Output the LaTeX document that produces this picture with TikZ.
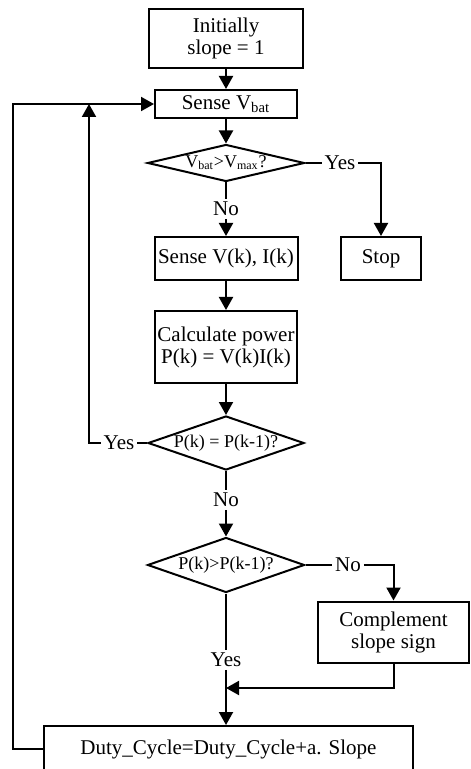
\documentclass[tikz,border=0pt]{standalone}
\usepackage{fontspec}
\setmainfont{Liberation Serif}
\usepackage{tikz}
\usetikzlibrary{arrows.meta,shapes}

\begin{document}
\begin{tikzpicture}[x=0.5pt,y=-0.5pt,line width=1pt,
font=\fontsize{10.5}{11}\selectfont,
box node/.style = {rectangle,draw,align=center,inner sep=0pt},
decision node/.style = {diamond,draw,inner sep=0pt,font=\fontsize{9}{10}\selectfont},
label node/.style = {inner sep=1pt},
flow/.style = {-{Triangle[width=7pt,length=6.5pt]}}]
\useasboundingbox (0,0) rectangle (470,769);

\node[box node,minimum width=77pt,minimum height=29.5pt] at (226,38.5) (init) {Initially\\slope = 1};
\node[box node,minimum width=71pt,minimum height=14pt] at (226,104) (sense) {Sense V\textsubscript{bat}};
\node[decision node,shape aspect=4.2,minimum width=78.5pt,minimum height=18.5pt] at (226,163) (d1) {V\textsubscript{bat}>V\textsubscript{max}?};
\node[label node] at (340,163) (yes1) {Yes};
\node[box node,minimum width=40pt,minimum height=21.5pt] at (381,258.5) (stop) {Stop};
\node[label node] at (226,209) (no1) {No};
\node[box node,minimum width=71.5pt,minimum height=21.5pt] at (226,258.5) (vi) {Sense V(k), I(k)};
\node[box node,minimum width=71pt,minimum height=36pt] at (226,347) (calc) {Calculate power\\P(k) = V(k)I(k)};
\node[decision node,shape aspect=2.9,minimum width=78pt,minimum height=27pt] at (226,443) (d2) {P(k) = P(k-1)?};
\node[label node] at (119,443) (yes2) {Yes};
\node[label node] at (226,500) (no2) {No};
\node[decision node,shape aspect=2.9,minimum width=78.5pt,minimum height=27.5pt] at (226,565) (d3) {P(k)>P(k-1)?};
\node[label node] at (348,565) (no3) {No};
\node[box node,minimum width=75.5pt,minimum height=30.5pt] at (393.5,632) (comp) {Complement\\slope sign};
\node[label node] at (226,660) (yes3) {Yes};
\node[box node,minimum width=184.5pt,minimum height=23pt] at (228.5,749) (duty) {Duty\_Cycle=Duty\_Cycle+a. Slope};

\coordinate (j1) at (89,104);
\coordinate (lft) at (13,104);
\coordinate (mrg) at (226,688);

\draw[flow] (init) -- (sense);
\draw[flow] (sense) -- (d1);
\draw (d1.east) -- (yes1.west);
\draw[flow] (yes1.east) -| (stop.north);
\draw (d1.south) -- (no1.north);
\draw[flow] (no1.south) -- (vi.north);
\draw[flow] (vi) -- (calc);
\draw[flow] (calc) -- (d2);
\draw (d2.west) -- (yes2.east);
\draw[flow] (yes2.west) -| (j1);
\draw (d2.south) -- (no2.north);
\draw[flow] (no2.south) -- (d3.north);
\draw (d3.east) -- (no3.west);
\draw[flow] (no3.east) -| (comp.north);
\draw (d3.south) -- (yes3.north);
\draw[flow] (yes3.south) -- (yes3.south |- duty.north);
\draw[flow] (comp.south) |- (mrg);
\draw[flow] (duty.west) -| (lft) -- (sense.west);
\end{tikzpicture}
\end{document}
